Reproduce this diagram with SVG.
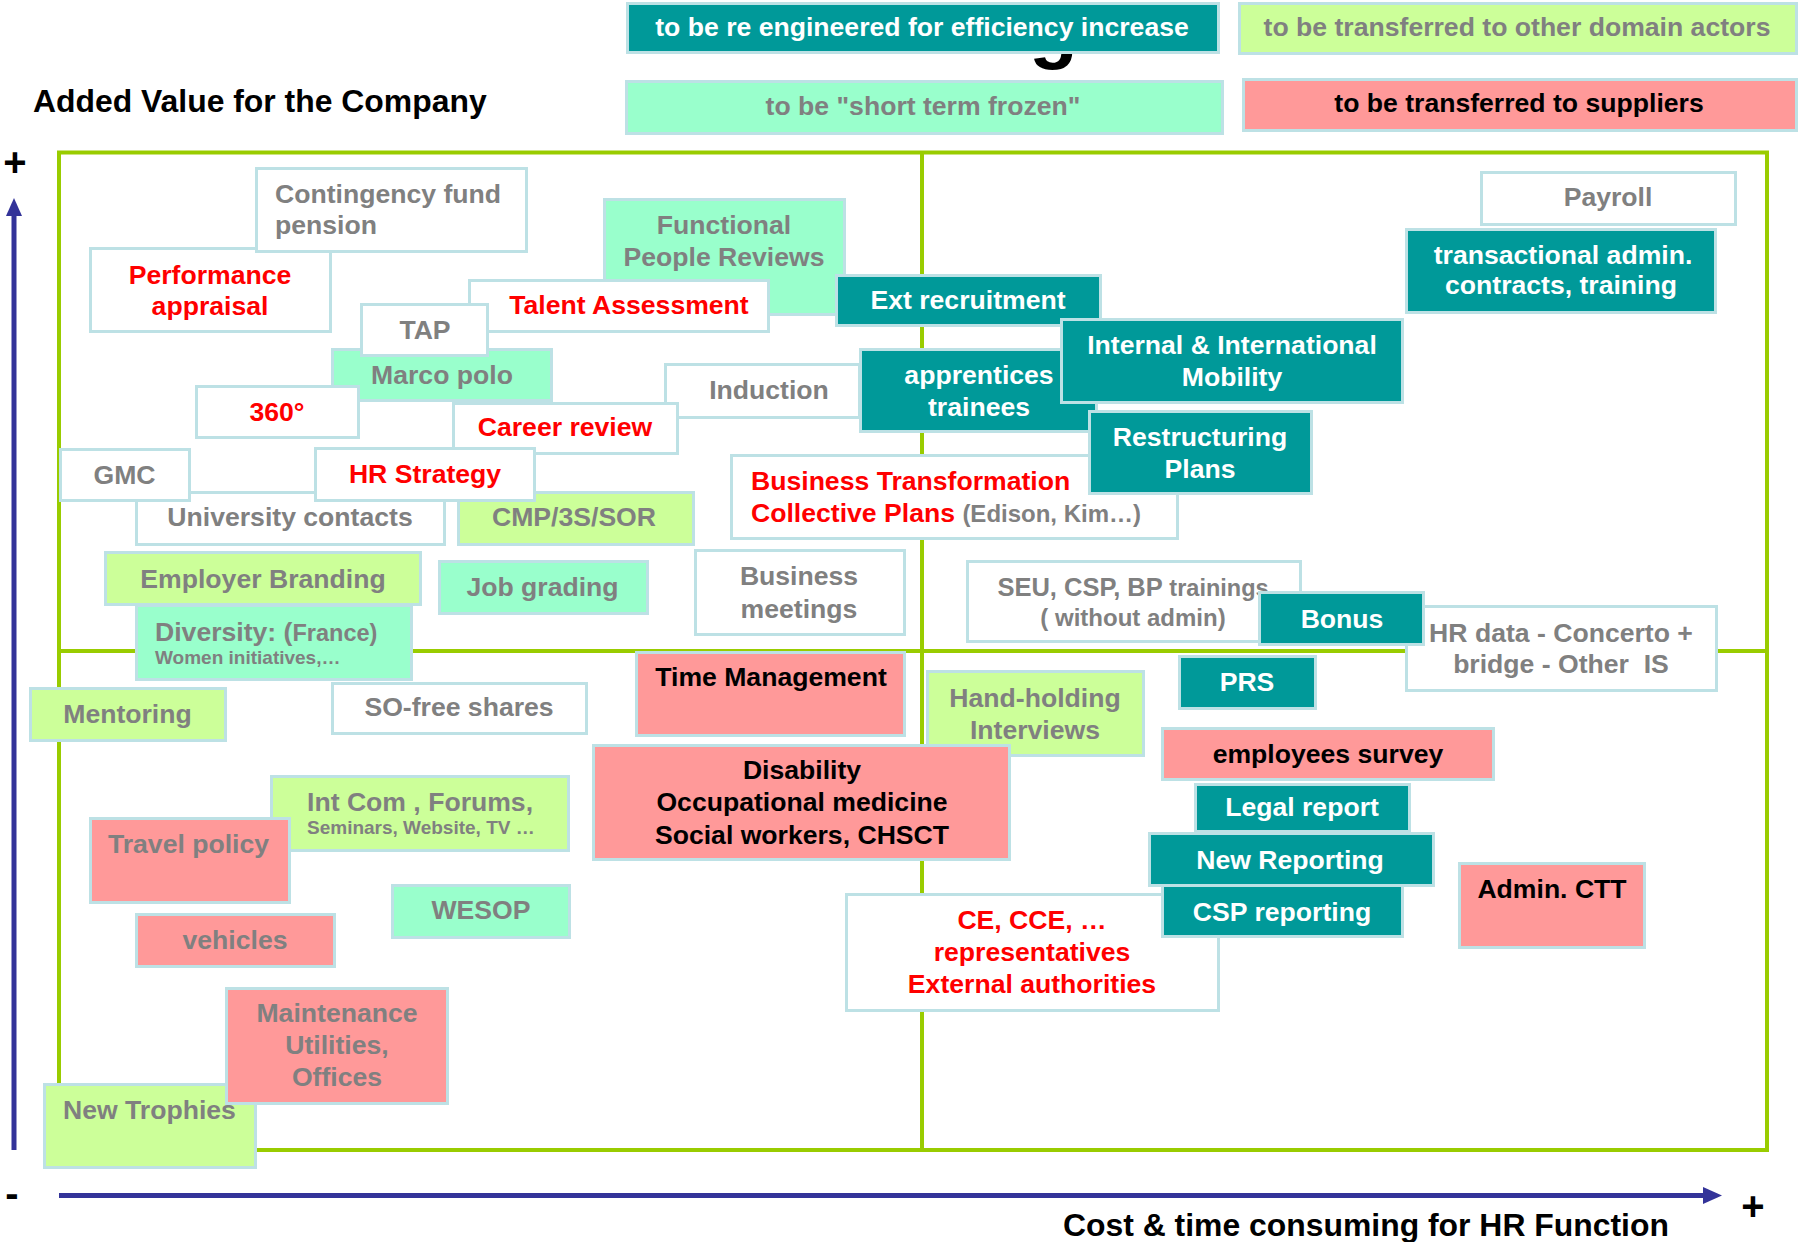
<svg xmlns="http://www.w3.org/2000/svg" width="1801" height="1242" viewBox="0 0 1801 1242">
<style>
  text { font-family: "Liberation Sans", Arial, Helvetica, sans-serif; font-weight: bold; font-size: 26.6px; }
  .c { text-anchor: middle; }
  .gray { fill: #808080; }
  .red { fill: #FF0000; }
  .wht { fill: #FFFFFF; }
  .blk { fill: #000000; }
  .n { stroke: #BDE1E5; stroke-width: 3; }
  .teal { fill: #009999; }
  .mint { fill: #99FFCC; }
  .lg { fill: #CCFF99; }
  .pink { fill: #FF9999; }
  .wh { fill: #FFFFFF; }
  .big { font-size: 31.9px; }
  .s23 { font-size: 23.5px; }
  .s18 { font-size: 19px; }
</style>
<rect x="0" y="0" width="1801" height="1242" fill="#FFFFFF"/>

<!-- hidden title fragment -->
<text x="1029" y="53" class="blk" style="font-size:80px">g</text>

<!-- legend -->
<g id="legend-reengineer"><rect class="n teal" x="627.5" y="3.5" width="591" height="49"/><text x="922" y="36" class="c wht">to be re engineered for efficiency increase</text></g>
<g id="legend-other-actors"><rect class="n lg" x="1239.5" y="3.5" width="557" height="50"/><text x="1517" y="36" class="c gray">to be transferred to other domain actors</text></g>
<g id="legend-frozen"><rect class="n mint" x="626.5" y="81.5" width="596" height="52"/><text x="923" y="115" class="c gray">to be "short term frozen"</text></g>
<g id="legend-suppliers"><rect class="n pink" x="1243.5" y="79.5" width="553" height="51"/><text x="1519" y="112" class="c blk">to be transferred to suppliers</text></g>

<text x="33" y="112" class="blk big">Added Value for the Company</text>
<text x="1063" y="1236" class="blk big">Cost &amp; time consuming for HR Function</text>

<!-- frame -->
<g id="frame" fill="none" stroke="#99CC00" stroke-width="4">
  <rect x="59" y="152.5" width="1708" height="997.5"/>
  <line x1="922" y1="152.5" x2="922" y2="1150"/>
  <line x1="59" y1="651" x2="1767" y2="651"/>
</g>

<!-- axes -->
<g id="connectors">
  <line x1="14" y1="212" x2="14" y2="1150" stroke="#333399" stroke-width="5"/>
  <polygon points="14,198 6,216 22,216" fill="#333399"/>
  <line x1="59" y1="1195.5" x2="1706" y2="1195.5" stroke="#333399" stroke-width="5"/>
  <polygon points="1722,1195.5 1703,1187 1703,1204" fill="#333399"/>
</g>
<text x="15" y="176" class="c blk" style="font-size:40px">+</text>
<text x="1753" y="1220" class="c blk" style="font-size:40px">+</text>
<text x="12" y="1207" class="c blk" style="font-size:40px">-</text>

<!-- nodes -->
<g id="n-performance"><rect class="n wh" x="90.5" y="248.5" width="240" height="83"/><text class="c red"><tspan x="210" y="284">Performance</tspan><tspan x="210" y="315">appraisal</tspan></text></g>
<g id="n-contingency"><rect class="n wh" x="256.5" y="168.5" width="270" height="83"/><text class="gray"><tspan x="275" y="203">Contingency fund</tspan><tspan x="275" y="234">pension</tspan></text></g>
<g id="n-functional"><rect class="n mint" x="604.5" y="199.5" width="240" height="115"/><text class="c gray"><tspan x="724" y="234">Functional</tspan><tspan x="724" y="266">People Reviews</tspan></text></g>
<g id="n-talent"><rect class="n wh" x="469.5" y="280.5" width="299" height="51"/><text x="629" y="314" class="c red">Talent Assessment</text></g>
<g id="n-marco"><rect class="n mint" x="332.5" y="349.5" width="219" height="51"/><text x="442" y="384" class="c gray">Marco polo</text></g>
<g id="n-tap"><rect class="n wh" x="361.5" y="304.5" width="126" height="51"/><text x="425" y="339" class="c gray">TAP</text></g>
<g id="n-360"><rect class="n wh" x="196.5" y="386.5" width="162" height="51"/><text x="277" y="421" class="c red">360°</text></g>
<g id="n-induction"><rect class="n wh" x="665.5" y="364.5" width="194" height="53"/><text x="769" y="399" class="c gray">Induction</text></g>
<g id="n-career"><rect class="n wh" x="453.5" y="403.5" width="224" height="50"/><text x="565" y="436" class="c red">Career review</text></g>
<g id="n-university"><rect class="n wh" x="136.5" y="492.5" width="308" height="52"/><text x="290" y="526" class="c gray">University contacts</text></g>
<g id="n-cmp"><rect class="n lg" x="458.5" y="492.5" width="235" height="52"/><text x="574" y="526" class="c gray">CMP/3S/SOR</text></g>
<g id="n-gmc"><rect class="n wh" x="60.5" y="449.5" width="129" height="51"/><text x="124.5" y="484" class="c gray">GMC</text></g>
<g id="n-hrstrategy"><rect class="n wh" x="315.5" y="448.5" width="219" height="52"/><text x="425" y="483" class="c red">HR Strategy</text></g>
<g id="n-employer"><rect class="n lg" x="105.5" y="552.5" width="315" height="52"/><text x="263" y="588" class="c gray">Employer Branding</text></g>
<g id="n-diversity"><rect class="n mint" x="136.5" y="605.5" width="275" height="74"/><text class="gray"><tspan x="155" y="641">Diversity: (</tspan><tspan class="s23">France)</tspan><tspan x="155" y="664" class="s18">Women initiatives,…</tspan></text></g>
<g id="n-jobgrading"><rect class="n mint" x="439.5" y="561.5" width="208" height="52"/><text x="542.5" y="596" class="c gray">Job grading</text></g>
<g id="n-business-meetings"><rect class="n wh" x="695.5" y="550.5" width="209" height="84"/><text class="c gray"><tspan x="799" y="585">Business</tspan><tspan x="799" y="618">meetings</tspan></text></g>
<g id="n-mentoring"><rect class="n lg" x="30.5" y="688.5" width="195" height="52"/><text x="127.5" y="723" class="c gray">Mentoring</text></g>
<g id="n-sofree"><rect class="n wh" x="332.5" y="683.5" width="254" height="50"/><text x="459" y="716" class="c gray">SO-free shares</text></g>
<g id="n-time"><rect class="n pink" x="636.5" y="652.5" width="268" height="83"/><text x="771" y="686" class="c blk">Time Management</text></g>
<g id="n-handholding"><rect class="n lg" x="927.5" y="671.5" width="216" height="84"/><text class="c gray"><tspan x="1035" y="707">Hand-holding</tspan><tspan x="1035" y="739">Interviews</tspan></text></g>
<g id="n-disability"><rect class="n pink" x="593.5" y="745.5" width="416" height="114"/><text class="c blk"><tspan x="802" y="779">Disability</tspan><tspan x="802" y="811">Occupational medicine</tspan><tspan x="802" y="844">Social workers, CHSCT</tspan></text></g>
<g id="n-intcom"><rect class="n lg" x="271.5" y="776.5" width="297" height="74"/><text class="gray"><tspan x="307" y="811">Int Com , Forums,</tspan><tspan x="307" y="834" class="s18">Seminars, Website, TV …</tspan></text></g>
<g id="n-travel"><rect class="n pink" x="90.5" y="818.5" width="199" height="84"/><text x="188.5" y="853" class="c gray">Travel policy</text></g>
<g id="n-wesop"><rect class="n mint" x="392.5" y="885.5" width="177" height="52"/><text x="481" y="919" class="c gray">WESOP</text></g>
<g id="n-vehicles"><rect class="n pink" x="136.5" y="914.5" width="198" height="52"/><text x="235" y="949" class="c gray">vehicles</text></g>
<g id="n-newtrophies"><rect class="n lg" x="44.5" y="1084.5" width="211" height="83"/></g>
<g id="n-maintenance"><rect class="n pink" x="226.5" y="988.5" width="221" height="115"/><text class="c gray"><tspan x="337" y="1022">Maintenance</tspan><tspan x="337" y="1054">Utilities,</tspan><tspan x="337" y="1086">Offices</tspan></text></g>
<g id="n-newtrophies-label"><text x="63" y="1119" class="gray">New Trophies</text></g>

<g id="n-payroll"><rect class="n wh" x="1481.5" y="172.5" width="254" height="52"/><text x="1608" y="206" class="c gray">Payroll</text></g>
<g id="n-transactional"><rect class="n teal" x="1406.5" y="229.5" width="309" height="83"/><text class="c wht"><tspan x="1563" y="264">transactional admin.</tspan><tspan x="1561" y="294">contracts, training</tspan></text></g>
<g id="n-ext"><rect class="n teal" x="836.5" y="275.5" width="264" height="50"/><text x="968" y="309" class="c wht">Ext recruitment</text></g>
<g id="n-bt"><rect class="n wh" x="731.5" y="455.5" width="446" height="83"/><text class="red"><tspan x="751" y="490">Business Transformation</tspan><tspan x="751" y="522">Collective Plans </tspan><tspan class="gray" style="font-size:24px">(Edison, Kim…)</tspan></text></g>
<g id="n-apprentices"><rect class="n teal" x="860.5" y="349.5" width="236" height="82"/><text class="c wht"><tspan x="979" y="384">apprentices</tspan><tspan x="979" y="416">trainees</tspan></text></g>
<g id="n-mobility"><rect class="n teal" x="1061.5" y="319.5" width="341" height="83"/><text class="c wht"><tspan x="1232" y="354">Internal &amp; International</tspan><tspan x="1232" y="386">Mobility</tspan></text></g>
<g id="n-restructuring"><rect class="n teal" x="1089.5" y="411.5" width="222" height="82"/><text class="c wht"><tspan x="1200" y="446">Restructuring</tspan><tspan x="1200" y="478">Plans</tspan></text></g>
<g id="n-seu"><rect class="n wh" x="967.5" y="561.5" width="333" height="80"/><text class="c gray"><tspan x="1133" y="596" style="font-size:25.5px">SEU, CSP, BP <tspan class="s23">trainings</tspan></tspan><tspan x="1133" y="626" style="font-size:24px">( without admin)</tspan></text></g>
<g id="n-hrdata"><rect class="n wh" x="1406.5" y="606.5" width="310" height="84"/><text class="c gray" xml:space="preserve"><tspan x="1561" y="642">HR data - Concerto +</tspan><tspan x="1561" y="673">bridge - Other  IS</tspan></text></g>
<g id="n-bonus"><rect class="n teal" x="1259.5" y="592.5" width="164" height="52"/><text x="1342" y="628" class="c wht">Bonus</text></g>
<g id="n-prs"><rect class="n teal" x="1179.5" y="656.5" width="136" height="52"/><text x="1247" y="691" class="c wht">PRS</text></g>
<g id="n-employees"><rect class="n pink" x="1162.5" y="728.5" width="331" height="51"/><text x="1328" y="763" class="c blk">employees survey</text></g>
<g id="n-newreporting"><rect class="n teal" x="1149.5" y="833.5" width="284" height="52"/><text x="1290" y="869" class="c wht">New Reporting</text></g>
<g id="n-legal"><rect class="n teal" x="1195.5" y="784.5" width="214" height="47"/><text x="1302" y="816" class="c wht">Legal report</text></g>
<g id="n-ce"><rect class="n wh" x="846.5" y="894.5" width="372" height="116"/><text class="c red"><tspan x="1032" y="929">CE, CCE, …</tspan><tspan x="1032" y="961">representatives</tspan><tspan x="1032" y="993">External authorities</tspan></text></g>
<g id="n-cspreporting"><rect class="n teal" x="1162.5" y="885.5" width="240" height="51"/><text x="1282" y="921" class="c wht">CSP reporting</text></g>
<g id="n-adminctt"><rect class="n pink" x="1459.5" y="863.5" width="185" height="84"/><text x="1552" y="898" class="c blk">Admin. CTT</text></g>
</svg>
